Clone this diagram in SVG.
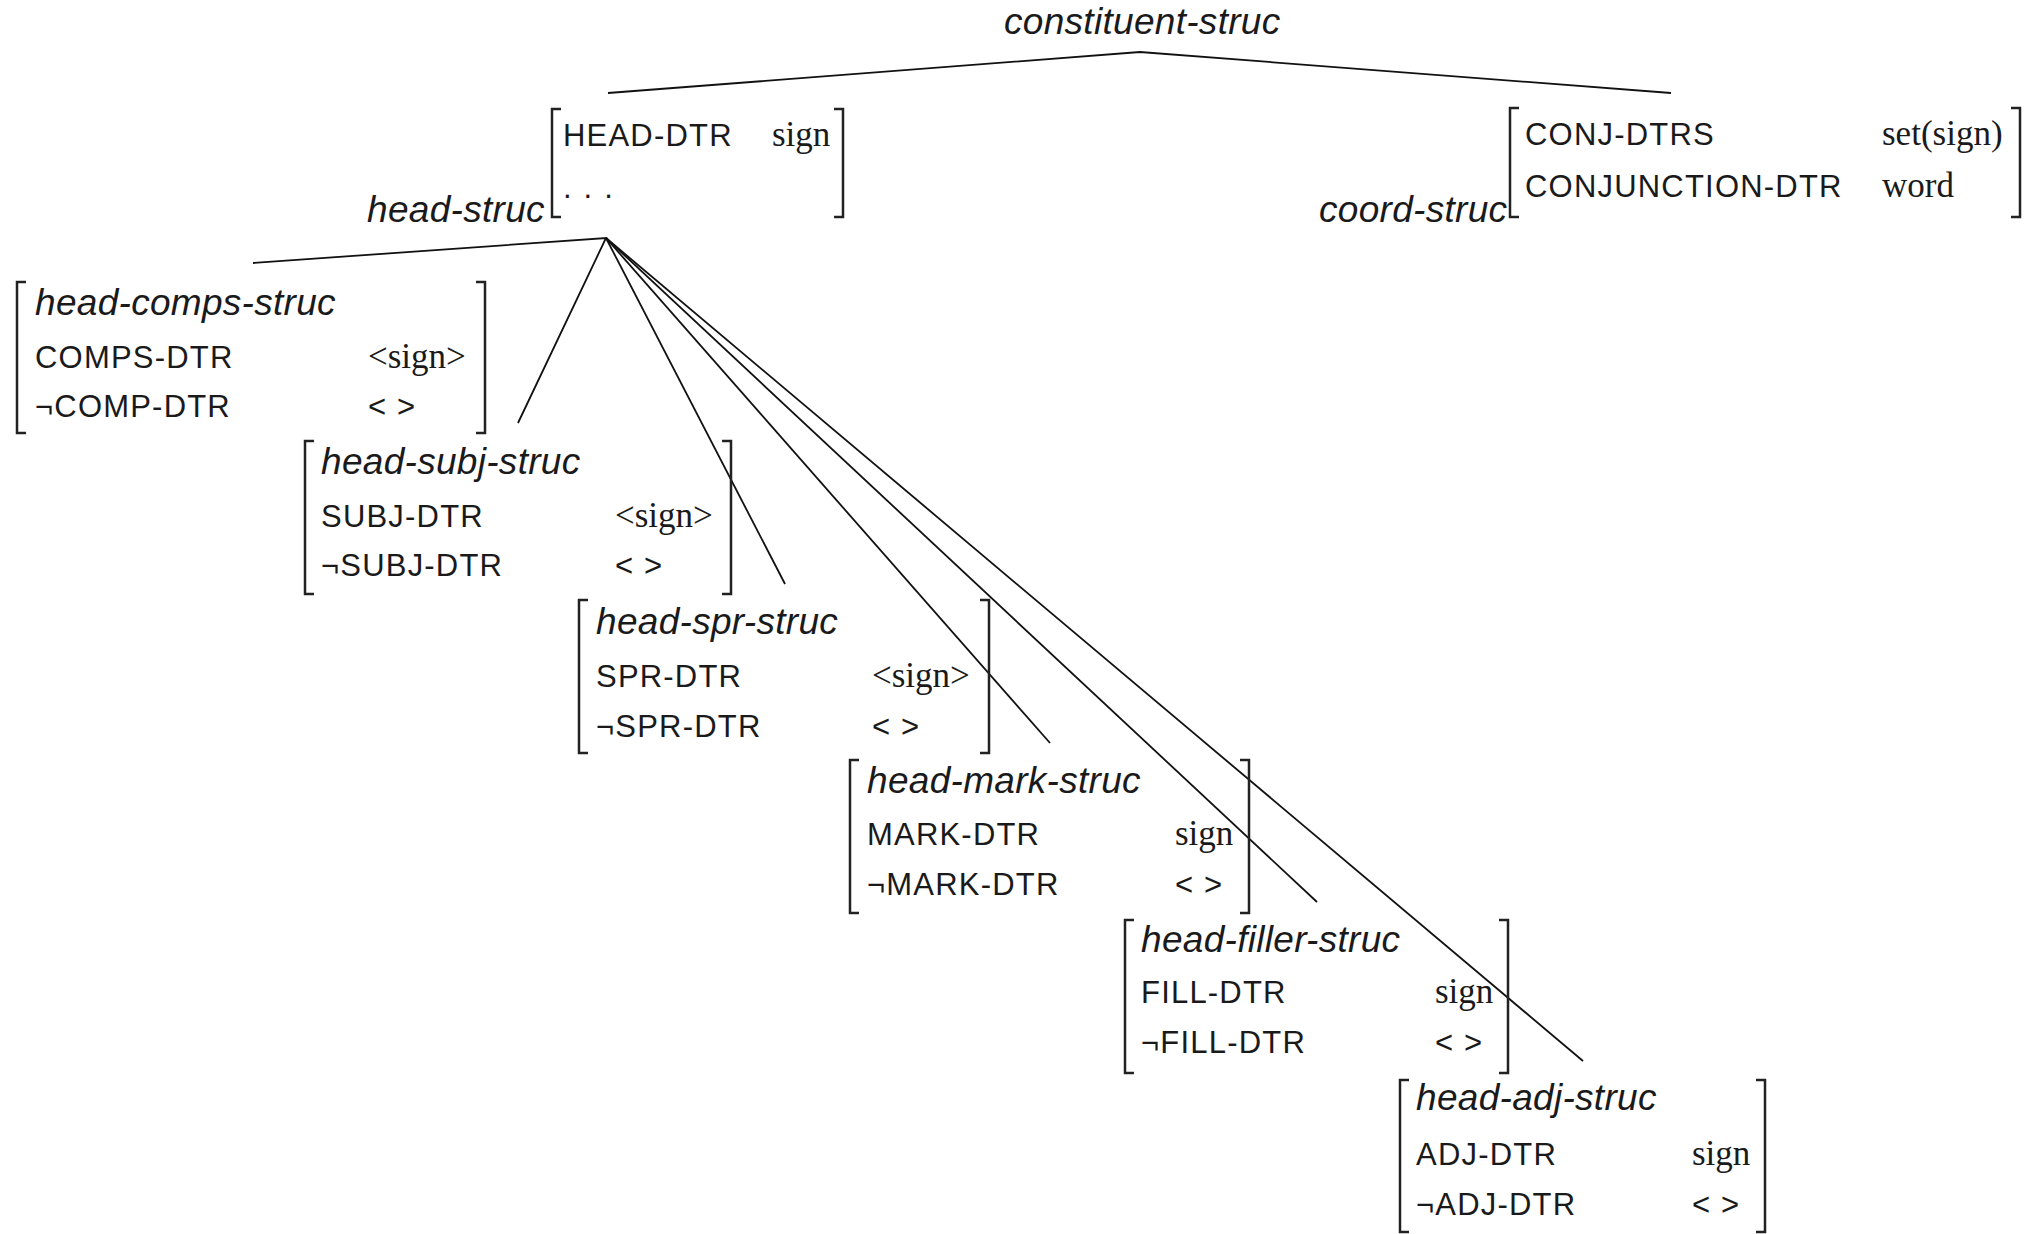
<svg xmlns="http://www.w3.org/2000/svg" width="2027" height="1234" viewBox="0 0 2027 1234">
<style>
.it{font-family:"Liberation Sans",Arial,sans-serif;font-style:italic;font-size:37px;letter-spacing:0.3px;fill:#1a1a1a}
.sf{font-family:"Liberation Sans",Arial,sans-serif;font-size:31px;letter-spacing:1.2px;fill:#1a1a1a}
.rm{font-family:"Liberation Serif","Times New Roman",serif;font-size:35px;fill:#1a1a1a}
.br{fill:none;stroke:#222;stroke-width:2.5}
.edge{fill:none;stroke:#111;stroke-width:1.8}
</style>
<rect width="2027" height="1234" fill="#fff"/>
<g id="connectors">
<polyline class="edge" points="608,93 1140,52 1671,93"/>
<polyline class="edge" points="253,263 606,238 518,423"/>
<line class="edge" x1="606" y1="238" x2="785" y2="584"/>
<line class="edge" x1="606" y1="238" x2="1050" y2="743"/>
<line class="edge" x1="606" y1="238" x2="1317" y2="902"/>
<line class="edge" x1="606" y1="238" x2="1583" y2="1061"/>
</g>
<g id="constituent-struc">
<text class="it" x="1004" y="34">constituent-struc</text>
</g>
<g id="head-struc">
<text class="it" x="367" y="222">head-struc</text>
<path class="br" d="M561,109 H552 V217 H561"/>
<path class="br" d="M834,109 H843 V217 H834"/>
<text class="sf" x="563" y="146">HEAD-DTR</text>
<text class="rm" x="772" y="146">sign</text>
<text class="sf" x="563" y="198" style="letter-spacing:12px">...</text>
</g>
<g id="coord-struc">
<text class="it" x="1319" y="222">coord-struc</text>
<path class="br" d="M1519,108 H1510 V217 H1519"/>
<path class="br" d="M2011,108 H2020 V217 H2011"/>
<text class="sf" x="1525" y="145">CONJ-DTRS</text>
<text class="rm" x="1882" y="145">set(sign)</text>
<text class="sf" x="1525" y="197">CONJUNCTION-DTR</text>
<text class="rm" x="1882" y="197">word</text>
</g>
<g id="head-comps-struc" transform="translate(17,282)">
<path class="br" d="M9,0 H0 V151 H9"/>
<path class="br" d="M459,0 H468 V151 H459"/>
<text class="it" x="18" y="33">head-comps-struc</text>
<text class="sf" x="18" y="86">COMPS-DTR</text>
<text class="rm" x="351" y="86">&lt;sign&gt;</text>
<text class="sf" x="18" y="135">¬COMP-DTR</text>
<text class="sf" x="351" y="135">&lt; &gt;</text>
</g>
<g id="head-subj-struc" transform="translate(305,441)">
<path class="br" d="M9,0 H0 V153 H9"/>
<path class="br" d="M417,0 H426 V153 H417"/>
<text class="it" x="16" y="33">head-subj-struc</text>
<text class="sf" x="16" y="86">SUBJ-DTR</text>
<text class="rm" x="310" y="86">&lt;sign&gt;</text>
<text class="sf" x="16" y="135">¬SUBJ-DTR</text>
<text class="sf" x="310" y="135">&lt; &gt;</text>
</g>
<g id="head-spr-struc" transform="translate(579,600)">
<path class="br" d="M9,0 H0 V153 H9"/>
<path class="br" d="M401,0 H410 V153 H401"/>
<text class="it" x="17" y="34">head-spr-struc</text>
<text class="sf" x="17" y="87">SPR-DTR</text>
<text class="rm" x="293" y="87">&lt;sign&gt;</text>
<text class="sf" x="17" y="137">¬SPR-DTR</text>
<text class="sf" x="293" y="137">&lt; &gt;</text>
</g>
<g id="head-mark-struc" transform="translate(850,760)">
<path class="br" d="M9,0 H0 V153 H9"/>
<path class="br" d="M390,0 H399 V153 H390"/>
<text class="it" x="17" y="33">head-mark-struc</text>
<text class="sf" x="17" y="85">MARK-DTR</text>
<text class="rm" x="325" y="85">sign</text>
<text class="sf" x="17" y="135">¬MARK-DTR</text>
<text class="sf" x="325" y="135">&lt; &gt;</text>
</g>
<g id="head-filler-struc" transform="translate(1125,920)">
<path class="br" d="M9,0 H0 V153 H9"/>
<path class="br" d="M374,0 H383 V153 H374"/>
<text class="it" x="16" y="32">head-filler-struc</text>
<text class="sf" x="16" y="83">FILL-DTR</text>
<text class="rm" x="310" y="83">sign</text>
<text class="sf" x="16" y="133">¬FILL-DTR</text>
<text class="sf" x="310" y="133">&lt; &gt;</text>
</g>
<g id="head-adj-struc" transform="translate(1400,1080)">
<path class="br" d="M9,0 H0 V152 H9"/>
<path class="br" d="M356,0 H365 V152 H356"/>
<text class="it" x="16" y="30">head-adj-struc</text>
<text class="sf" x="16" y="85">ADJ-DTR</text>
<text class="rm" x="292" y="85">sign</text>
<text class="sf" x="16" y="135">¬ADJ-DTR</text>
<text class="sf" x="292" y="135">&lt; &gt;</text>
</g>
</svg>
